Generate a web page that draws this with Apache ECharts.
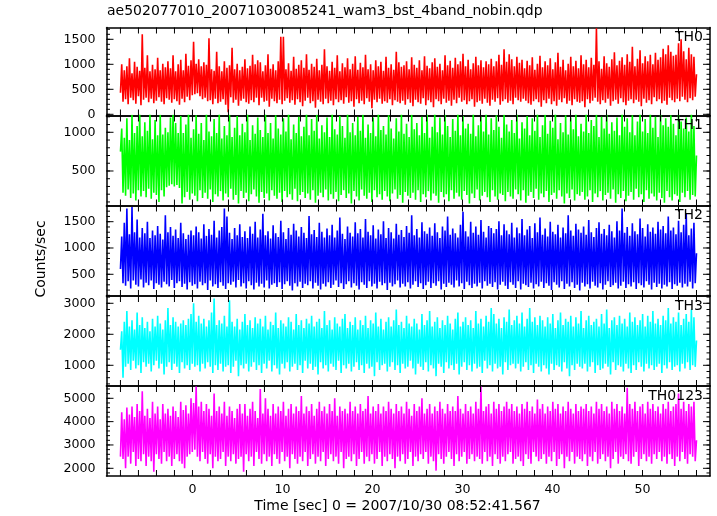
<!DOCTYPE html>
<html><head><meta charset="utf-8">
<script src="https://cdn.jsdelivr.net/npm/echarts@6/dist/echarts.min.js"></script>
<style>html,body{margin:0;padding:0;background:#fff}#c{width:717px;height:516px}</style>
</head><body><div id="c"></div>
<script>
// ---- data (counts/sec), sampled on a uniform time grid from T_START to T_END ----
const T_START = -8.0, T_END = 56.0;
const TH0 = [
430,1000,250,880,300,960,200,1120,330,820,280,1050,210,950,360,870,180,1600,290,930,330,1180,240,860,310,990,220,900,270,1130,
340,880,250,1010,200,940,320,1060,290,920,230,1180,300,860,260,1000,190,1090,310,880,240,1210,350,970,280,1080,380,1450,400,1010,
420,1100,360,960,300,1040,330,990,260,1520,280,900,200,870,310,1250,220,960,250,860,300,1060,190,930,40,980,340,1330,230,900,
290,1010,170,880,270,950,310,1100,240,920,210,970,280,1190,240,1000,330,1080,180,1040,330,860,250,980,270,1200,150,910,310,1000,
260,880,220,1060,290,1550,200,1550,270,900,320,1020,230,870,280,1150,190,910,300,990,240,1080,160,930,270,1200,330,890,220,1010,
260,950,130,1110,290,880,250,990,200,1300,310,960,220,870,270,1050,180,930,300,1180,240,860,280,1020,210,940,340,1120,230,900,
260,1010,150,1160,300,890,220,1030,270,940,200,1190,320,900,250,1000,120,880,290,1080,240,960,310,1050,210,870,260,1150,230,930,
300,1000,180,890,280,1250,250,1040,220,950,270,980,190,1060,300,900,230,1140,160,990,290,930,240,1080,210,880,320,1160,180,970,
280,920,240,1040,140,1120,300,950,260,1010,200,880,310,1180,230,980,270,1070,170,930,290,1130,220,1000,330,1060,250,1210,280,960,
200,1090,260,900,300,1020,150,1150,240,980,270,1080,210,940,310,1060,230,1000,170,1110,290,960,250,1060,320,1190,190,990,260,1300,
300,1050,230,1200,270,1100,200,960,330,1150,280,1030,250,1090,310,920,270,1070,220,980,190,1140,260,890,300,1010,240,1170,150,940,
280,1060,220,980,310,1120,200,900,260,1040,170,1230,290,950,240,1090,320,880,210,1010,270,1150,180,960,300,1070,250,920,230,1180,
260,1000,140,1090,300,940,220,1130,270,990,330,1720,250,1060,200,910,280,1160,230,1020,310,950,170,1100,260,1240,290,980,210,1070,
320,1140,240,990,180,1200,270,1050,300,1350,220,960,290,1110,250,1280,160,1020,310,1160,230,1060,280,1190,200,1000,340,1230,260,1090,
300,1140,220,1310,270,1200,190,1380,330,1250,280,1170,240,1190,310,1420,260,1500,350,1260,290,1100,240,1330,320,1200,280,1150,350,800
];
const TH1 = [
750,1050,220,930,180,1180,260,900,150,1230,210,990,120,1080,250,1250,170,950,240,1130,160,1020,270,1240,140,910,220,1160,190,960,
100,1230,250,970,170,1060,290,1000,310,1190,330,1230,300,1120,320,990,280,1210,80,990,160,1100,230,1260,130,930,210,1040,180,1220,
110,980,250,1120,150,900,220,1250,140,1010,260,950,100,1170,200,990,170,1240,240,920,120,1080,210,960,160,1230,270,940,130,1060,
190,1210,80,960,240,1110,150,1000,220,1260,110,900,200,1090,260,980,170,1190,90,1030,230,940,150,1240,210,990,120,1120,250,920,
180,1220,140,1050,220,970,100,1180,240,1010,160,1250,200,910,130,1100,270,990,110,1200,190,950,230,1070,150,1260,210,960,130,1170,
250,1020,90,1230,180,920,220,1090,160,1000,260,1190,120,940,200,1240,140,1040,230,970,110,1210,190,1080,250,930,150,1250,210,1000,
80,1120,240,960,170,1200,120,1020,260,1230,180,930,140,1100,220,990,100,1190,250,950,160,1260,200,1030,130,1080,240,970,170,1220,
110,1050,210,920,260,1180,140,1010,190,1240,90,980,230,1110,180,940,150,1230,220,1040,130,1120,250,960,100,1200,200,990,160,1260,
240,930,120,1070,210,1250,180,1000,90,1190,230,970,160,1230,200,1080,110,940,250,1170,140,1020,220,1250,170,960,130,1210,240,1050,
190,1110,80,980,210,1240,150,950,260,1090,120,1200,180,1010,230,1260,160,970,100,1180,250,1030,170,1220,130,1070,210,930,190,1230,
110,1100,230,1010,170,1160,140,990,260,1240,200,920,120,1130,250,1050,90,1210,180,960,230,1180,150,1020,270,1250,130,940,210,1090,
160,1230,240,980,100,1150,190,1060,220,1260,140,910,250,1120,170,1000,80,1220,210,970,150,1190,260,1040,120,1250,200,950,180,1110,
230,1010,130,1240,170,990,250,1160,100,1080,210,1230,160,940,240,1200,120,1050,190,1260,220,980,140,1130,260,1020,90,1190,200,960,
150,1250,240,1070,110,1180,180,1000,230,1220,130,960,270,1140,160,1240,200,1010,100,1170,250,990,140,1260,210,1060,170,1200,120,940,
220,1230,150,1090,90,1180,240,1070,160,1220,120,1110,200,960,180,1230,100,1140,220,1050,160,1190,240,1010,130,1250,190,1080,170,700
];
const TH2 = [
600,1220,330,1480,280,1750,370,1260,230,1780,380,1300,300,1540,270,1200,400,1380,250,1280,340,1500,290,1190,380,1330,220,1240,330,1420,
300,1270,250,1160,360,1620,310,1300,270,1400,390,1230,240,1350,330,1190,370,1480,260,1280,320,1170,210,1250,350,1330,280,1240,310,1410,
230,1300,360,1180,290,1450,330,1230,200,1360,380,1250,270,1520,310,1200,240,1330,350,1400,280,1750,220,1600,330,1290,300,1170,360,1380,
250,1240,390,1450,270,1210,330,1320,230,1190,370,1410,290,1270,210,1500,340,1200,270,1350,320,1650,250,1240,380,1320,230,1180,300,1430,
330,1280,260,1210,350,1520,220,1300,310,1170,370,1380,280,1250,190,1460,330,1330,270,1220,360,1400,240,1290,320,1190,290,1610,370,1260,
230,1340,340,1210,280,1480,210,1310,320,1200,270,1370,350,1240,240,1440,300,1200,380,1330,260,1580,330,1270,220,1170,310,1410,370,1290,
250,1220,330,1490,280,1280,210,1360,350,1200,300,1550,240,1310,370,1240,270,1430,320,1180,230,1350,360,1260,290,1510,330,1190,200,1380,
340,1300,270,1180,310,1460,380,1250,250,1340,320,1210,270,1420,350,1290,230,1620,300,1240,370,1360,260,1200,330,1490,220,1320,290,1270,
360,1390,240,1230,330,1470,280,1300,370,1190,210,1410,320,1330,260,1600,340,1250,300,1370,250,1280,380,1200,270,1440,330,1690,220,1320,
360,1220,290,1500,240,1290,320,1410,270,1250,340,1530,230,1310,370,1200,280,1420,320,1380,260,1280,350,1360,210,1510,300,1240,360,1450,
280,1330,220,1260,350,1480,300,1200,240,1390,370,1280,210,1550,320,1240,290,1350,260,1420,340,1190,230,1470,310,1300,270,1580,360,1250,
240,1370,330,1220,280,1500,200,1310,350,1260,300,1440,250,1200,370,1390,220,1280,320,1620,270,1330,350,1230,240,1460,300,1350,190,1290,
340,1410,270,1250,310,1530,230,1300,360,1210,280,1380,250,1490,330,1270,210,1360,300,1240,370,1440,260,1320,290,1200,340,1510,230,1330,
280,1750,360,1290,240,1400,310,1230,270,1470,350,1320,220,1260,330,1560,290,1380,250,1220,370,1450,300,1310,210,1390,340,1270,260,1500,
320,1350,230,1420,300,1280,270,1600,350,1330,220,1390,310,1260,280,1520,340,1300,250,1440,320,1650,270,1240,360,1370,230,1480,330,900
];
const TH3 = [
1500,2100,600,2400,950,2750,1050,2250,850,2450,1150,2150,900,2700,1000,2300,750,2550,1100,2200,950,2400,1050,2100,800,2500,1000,2250,1150,2600,
900,2350,1050,2150,700,2450,950,2850,1100,2300,850,2550,1050,2400,950,2250,750,2350,1100,2450,900,2300,1000,2500,850,2650,1050,3000,950,2400,
1000,2600,800,2350,1050,2500,900,2250,1100,2450,950,2700,750,3150,1000,2300,850,2450,1050,2350,800,2600,950,2250,1000,3100,750,2400,950,2250,
1150,2500,650,2150,1000,2400,900,2650,1050,2300,800,2450,950,2200,1100,2550,850,2350,1000,2500,750,2250,1050,2600,900,2150,1150,2400,800,2300,
1000,2700,900,2200,700,2450,1050,2350,900,2250,1100,2550,800,2400,950,2150,1050,2650,850,2300,1000,2450,750,2200,1150,2500,900,2350,1050,2600,
850,2250,950,2400,700,2500,1100,2200,900,2750,1000,2300,800,2450,1050,2150,950,2550,850,2350,1150,2250,750,2500,1000,2650,900,2200,1050,2400,
800,2300,950,2550,1100,2150,850,2450,1000,2300,750,2600,1050,2200,900,2450,950,2350,650,2700,1100,2250,850,2500,1000,2150,1050,2400,800,2550,
950,2250,1100,2450,850,2800,1000,2300,750,2400,1050,2200,900,2600,950,2350,1150,2250,900,2500,700,2350,1050,2150,950,2650,850,2300,1100,2450,
800,2750,1000,2250,900,2400,650,2550,1050,2200,950,2450,750,2300,1100,2600,900,2350,1000,2150,850,2500,1050,2700,700,2250,950,2400,1100,2550,
850,2300,1000,2450,800,2200,1050,2750,900,2350,950,2500,750,2250,1150,2600,900,2400,1000,2850,800,2650,1050,2350,900,2500,950,2200,700,2550,
1100,2400,850,2800,1000,2300,1050,2450,900,2600,1050,2350,800,2700,950,2250,1100,2500,850,2850,1000,2400,750,2550,1050,2300,950,2600,800,2450,
1000,2250,900,2550,700,2350,1050,2650,850,2200,1000,2450,950,2700,800,2300,1100,2500,900,2400,650,2600,1000,2250,850,2550,1050,2350,950,2750,
900,2200,1050,2450,800,2600,950,2300,1100,2400,750,2500,1000,2250,850,2650,900,2350,1050,2800,950,2200,700,2450,1100,2550,850,2300,1000,2600,
950,2350,800,2500,1050,2250,900,2700,750,2400,1000,2550,850,2300,1100,2450,950,2650,800,2250,1050,2600,900,2400,1000,2750,850,2350,950,2500,
1050,2300,750,2600,1000,2450,900,2850,1100,2350,850,2550,950,2400,1000,2700,800,2300,1050,2500,900,2650,1100,2400,850,2800,1000,2550,950,1800
];
const TH0123 = [
2500,4400,2400,4100,2000,4600,2500,4300,2200,4650,2700,4200,2100,4750,2400,4450,2300,5300,2600,4250,2100,4550,2500,4150,2300,4850,1850,4350,2600,4650,
2400,4100,2200,4750,2700,4350,2300,4550,2500,4250,2100,4650,2400,4450,2600,4200,2300,4850,2200,4500,2000,4700,2500,4350,2600,5000,2700,4800,2800,5500,
2500,4650,2300,4850,2700,4450,2400,4750,2200,4550,2600,4250,2000,5200,2500,4450,2300,4650,2400,4350,2700,4850,2100,4250,2500,4650,2300,4450,2600,4150,
2200,4550,2400,4750,2500,4350,1850,4750,2600,4250,2300,4550,2500,4850,2100,4450,2700,4150,2400,5400,2200,4350,2600,5000,2300,4550,2500,4250,2100,4750,
2600,4350,2400,4650,2200,4450,2700,4850,2300,4250,2500,4550,2000,4750,2600,4350,2400,4650,2200,4450,2500,5100,2300,4350,2700,4650,2100,4450,2400,4750,
2600,4250,2200,4550,2500,4850,2300,4450,2700,4650,2100,4350,2400,4750,2600,4450,2300,5000,2500,4250,2200,4650,2700,4450,2000,4550,2400,4350,2500,4850,
2300,4450,2600,4650,2100,4350,2400,4750,2700,4450,2200,4550,2500,5100,2300,4350,2600,4650,2200,4450,2400,4750,2700,4350,2100,4650,2500,4450,2300,4850,
2600,4550,2400,4350,2000,4750,2500,4450,2300,4650,2600,4350,2200,4850,2400,4550,2700,4250,2100,4750,2500,4450,2300,4650,2600,5000,2400,4350,2700,4550,
2200,4750,2500,4350,2300,4650,1900,4450,2600,4850,2400,4550,2200,4350,2500,4750,2700,4450,2400,4650,2100,4450,2600,5100,2300,4550,2500,4350,2700,4750,
2200,4450,2400,4650,2600,4350,2300,4850,2500,4550,2400,5500,2200,4450,2700,4650,2300,4750,2500,4350,2100,4850,2600,4550,2400,4750,2200,4450,2500,4650,
2300,4850,2600,4550,2700,4750,2200,4450,2400,4650,2500,4350,2300,4750,2100,4550,2600,4850,2400,4450,2200,4650,2700,4350,2500,4950,2300,4550,2400,4750,
2600,4350,2200,4650,2500,4450,2300,4850,2700,4550,2100,4750,2400,4350,2600,4650,2000,4450,2500,4850,2300,4550,2700,4350,2200,4750,2500,4450,2400,4650,
2300,4550,2600,4750,2100,4450,2500,4650,2300,4350,2700,4850,2200,4550,2400,4750,2600,4450,2300,4650,2500,4350,2000,4850,2400,4550,2700,4750,2200,4450,
2500,4650,2400,4350,2600,5450,2300,4750,2200,4550,2500,4850,2700,4450,2100,4650,2400,4750,2600,4350,2300,4850,2500,4550,2200,4750,2600,4450,2400,4650,
2700,4350,2300,4750,2500,4550,2200,4850,2600,4450,2400,4650,2100,4750,2500,5200,2300,4550,2700,4850,2400,4450,2200,4750,2600,4650,2500,4850,2300,3200
];

const panelSeries = [TH0, TH1, TH2, TH3, TH0123];
const panelNames = ['TH0', 'TH1', 'TH2', 'TH3', 'TH0123'];
const yMin = [-24, 54, 87, 332, 1670];
const yMax = [1736, 1217, 1808, 3235, 5527];
const yMajorTicks = [[0,500,1000,1500],[500,1000],[500,1000,1500],[1000,2000,3000],[2000,3000,4000,5000]];
const yMinorStep = [100, 100, 100, 200, 200];
const X_MIN = -9.55, X_MAX = 57.5;
const xTickStep = 2;
const xLabelTicks = [0, 10, 20, 30, 40, 50];
const titleText = 'ae502077010_20071030085241_wam3_bst_4band_nobin.qdp';
const xTitle = 'Time [sec] 0 = 2007/10/30 08:52:41.567';
const yTitle = 'Counts/sec';

// ---- styles / layout ----
const colors = ['#ff0000', '#00ff00', '#0000ff', '#00ffff', '#ff00ff'];
const FONT = '"DejaVu Sans", "Liberation Sans", sans-serif';
const panelEdges = [27.5, 115.5, 205.5, 296, 386, 476];
const LEFT = 106.5, RIGHT = 710;
const X_TICK_LEN = 6, Y_MAJOR_LEN = 7, Y_MINOR_LEN = 3.5;

function range(a, b, s) { const r = []; for (let v = Math.ceil(a / s) * s; v <= b + 1e-9; v += s) r.push(+v.toFixed(6)); return r; }
const xTicks = range(-8, 56, xTickStep);
const fmt = v => String(Math.round(v));

const grid = [], xAxis = [], yAxis = [], series = [], graphic = [];
const frameLine = { show: true, onZero: false, lineStyle: { color: '#000', width: 1.5 } };

function tickRender(params, api) {
  const cs = params.coordSys;
  const v = api.value(0), kind = api.value(1);
  const st = { stroke: '#000', lineWidth: 1 };
  if (kind === 0) {
    const px = api.coord([v, api.value(2)])[0];
    return { type: 'group', children: [
      { type: 'line', shape: { x1: px, y1: cs.y, x2: px, y2: cs.y + X_TICK_LEN }, style: st },
      { type: 'line', shape: { x1: px, y1: cs.y + cs.height, x2: px, y2: cs.y + cs.height - X_TICK_LEN }, style: st }
    ] };
  }
  const py = api.coord([X_MIN, v])[1];
  const len = kind === 1 ? Y_MAJOR_LEN : Y_MINOR_LEN;
  return { type: 'group', children: [
    { type: 'line', shape: { x1: cs.x, y1: py, x2: cs.x + len, y2: py }, style: st },
    { type: 'line', shape: { x1: cs.x + cs.width, y1: py, x2: cs.x + cs.width - len, y2: py }, style: st }
  ] };
}

for (let i = 0; i < 5; i++) {
  grid.push({ left: LEFT, width: RIGHT - LEFT, top: panelEdges[i], height: panelEdges[i + 1] - panelEdges[i], containLabel: false });
  ['bottom', 'top'].forEach(pos => {
    xAxis.push({
      type: 'value', gridIndex: i, position: pos, min: X_MIN, max: X_MAX,
      axisLine: frameLine, axisTick: { show: false },
      axisLabel: (pos === 'bottom' && i === 4) ? { show: true, customValues: xLabelTicks, formatter: fmt, margin: 7, color: '#000', fontSize: 12.6, fontFamily: FONT } : { show: false },
      splitLine: { show: false }
    });
  });
  ['left', 'right'].forEach(pos => {
    yAxis.push({
      type: 'value', gridIndex: i, position: pos, min: yMin[i], max: yMax[i],
      axisLine: frameLine, axisTick: { show: false },
      axisLabel: pos === 'left' ? { show: true, customValues: yMajorTicks[i], formatter: fmt, margin: 11, color: '#000', fontSize: 12.6, fontFamily: FONT } : { show: false },
      splitLine: { show: false }
    });
  });
  const vals = panelSeries[i];
  const n = vals.length;
  const data = vals.map((v, k) => [T_START + k * (T_END - T_START) / (n - 1), v]);
  series.push({
    type: 'line', name: panelNames[i], xAxisIndex: 2 * i, yAxisIndex: 2 * i,
    data: data, showSymbol: false, symbol: 'none', sampling: null, clip: true,
    lineStyle: { color: colors[i], width: 1.6 }, z: 1
  });
  // tick marks drawn through the panel's own scales
  const tickData = [];
  xTicks.forEach(v => tickData.push([v, 0, yMin[i]]));
  yMajorTicks[i].forEach(v => tickData.push([v, 1, v]));
  range(yMin[i], yMax[i], yMinorStep[i]).forEach(v => tickData.push([v, 2, v]));
  series.push({
    type: 'custom', xAxisIndex: 2 * i, yAxisIndex: 2 * i, clip: false, silent: true, z: 5,
    data: tickData,
    encode: { x: 2, y: 2 },
    renderItem: tickRender
  });
  graphic.push({
    type: 'text', z: 100,
    style: { x: 703, y: panelEdges[i] + 3, text: panelNames[i], textAlign: 'right', textVerticalAlign: 'top', fill: '#000', font: '14px ' + FONT }
  });
}

graphic.push({ type: 'text', style: { x: 107, y: 4, text: titleText, textAlign: 'left', textVerticalAlign: 'top', fill: '#000', font: '14px ' + FONT } });
graphic.push({ type: 'text', style: { x: 397.5, y: 499, text: xTitle, textAlign: 'center', textVerticalAlign: 'top', fill: '#000', font: '14px ' + FONT } });
graphic.push({ type: 'text', x: 41.5, y: 259, rotation: Math.PI / 2, style: { x: 0, y: 0, text: yTitle, textAlign: 'center', textVerticalAlign: 'middle', fill: '#000', font: '14px ' + FONT } });

const chart = echarts.init(document.getElementById('c'), null, { renderer: 'canvas' });
chart.setOption({ animation: false, backgroundColor: '#fff', grid, xAxis, yAxis, series, graphic });
</script></body></html>
